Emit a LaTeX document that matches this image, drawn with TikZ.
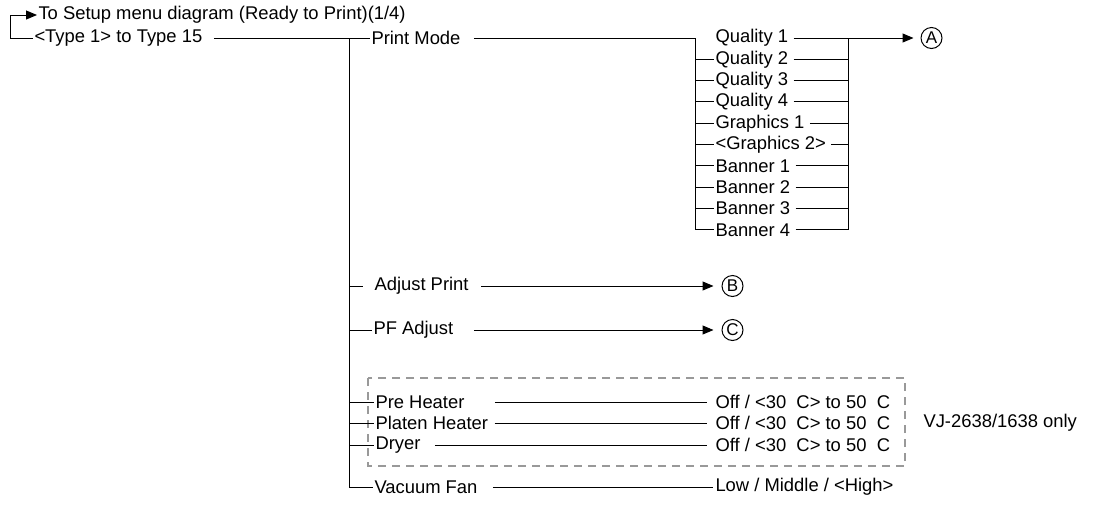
\documentclass[tikz,border=0pt]{standalone}
\usepackage{fontspec}
\setmainfont{Liberation Sans}
\usetikzlibrary{arrows.meta}
\begin{document}
\begin{tikzpicture}[x=1pt, y=-1pt, line width=1pt, font=\fontsize{18.4}{22}\selectfont,
  lbl/.style={anchor=west, inner sep=1pt}, arr/.style={-{Triangle[length=11pt,width=9pt]}},
  circ/.style={draw, circle, minimum size=21pt, inner sep=0pt, font=\fontsize{17}{18}\selectfont},
  boxline/.style={draw=black!40, line width=2pt, dash pattern=on 8pt off 6pt}]
\useasboundingbox (0,0) rectangle (1103,504);
\node[lbl] (setup) at (37,15) {To Setup menu diagram (Ready to Print)(1/4)}; \node[lbl] (t1) at (33,38) {<Type 1> to Type 15};
\coordinate (bk) at (10,38); \draw[arr] (t1.west) -- (bk) |- (setup.west);
\node[lbl] (pm) at (370,38) {Print Mode}; \draw ([xshift=10pt]t1.east) -- (pm.west);
\coordinate (tk) at (349,38); \coordinate (lb) at (695,38); \coordinate (rb) at (848,38);
\foreach \t [count=\i from 0] in {Quality 1,Quality 2,Quality 3,Quality 4,Graphics 1,<Graphics 2>,Banner 1,Banner 2,Banner 3,Banner 4}
  \node[lbl] (m\i) at (714,38+21.33*\i) {\t};
\draw ([xshift=12pt]pm.east) -- (lb) |- (m9.west); \draw ([xshift=4pt]m9.east) -| (rb);
\foreach \i in {1,...,8} { \draw (lb |- m\i.west) -- (m\i.west); \draw ([xshift=4pt]m\i.east) -- (rb |- m\i.east); }
\draw ([xshift=4pt]m0.east) -- (rb); \node[circ] (ca) at (931.5,38) {A}; \draw[arr, shorten >=7pt] (rb) -- (ca.west);
\node[lbl] (ap) at (373,286) {Adjust Print}; \node[circ] (cb) at (732.5,286) {B}; \draw[arr, shorten >=8pt] ([xshift=11pt]ap.east) -- (cb.west);
\node[lbl] (pf) at (372,330) {PF Adjust}; \node[circ] (cc) at (732.5,330) {C}; \draw[arr, shorten >=8pt] ([xshift=19pt]pf.east) -- (cc.west);
\draw[boxline] (368,378) rectangle (905,466);
\node[lbl] (ph) at (374,402) {Pre Heater}; \node[lbl] (pl) at (374,423) {Platen Heater}; \node[lbl] (dr) at (374,445) {Dryer}; \node[lbl] (vf) at (373,487) {Vacuum Fan};
\node[lbl] (v1) at (714,402) {Off / <30\ \ C> to 50\ \ C}; \node[lbl] (v2) at (714,423) {Off / <30\ \ C> to 50\ \ C}; \node[lbl] (v3) at (714,445) {Off / <30\ \ C> to 50\ \ C};
\node[lbl] (v4) at (714,487) {Low / Middle / <High>}; \node[lbl] (vj) at (922,423) {VJ-2638/1638 only};
\draw ([xshift=29pt]ph.east) -- ([xshift=-7pt]v1.west); \draw ([xshift=5pt]pl.east) -- ([xshift=-7pt]v2.west); \draw ([xshift=13pt]dr.east) -- ([xshift=-7pt]v3.west); \draw ([xshift=14pt]vf.east) -- ([xshift=-1pt]v4.west);
\draw (tk) |- (vf.west); \draw (tk |- ap.west) -- ([xshift=-10pt]ap.west); \draw (tk |- pf.west) -- (pf.west);
\draw (tk |- ph.west) -- (ph.west); \draw (tk |- pl.west) -- (pl.west); \draw (tk |- dr.west) -- (dr.west);
\end{tikzpicture}
\end{document}
